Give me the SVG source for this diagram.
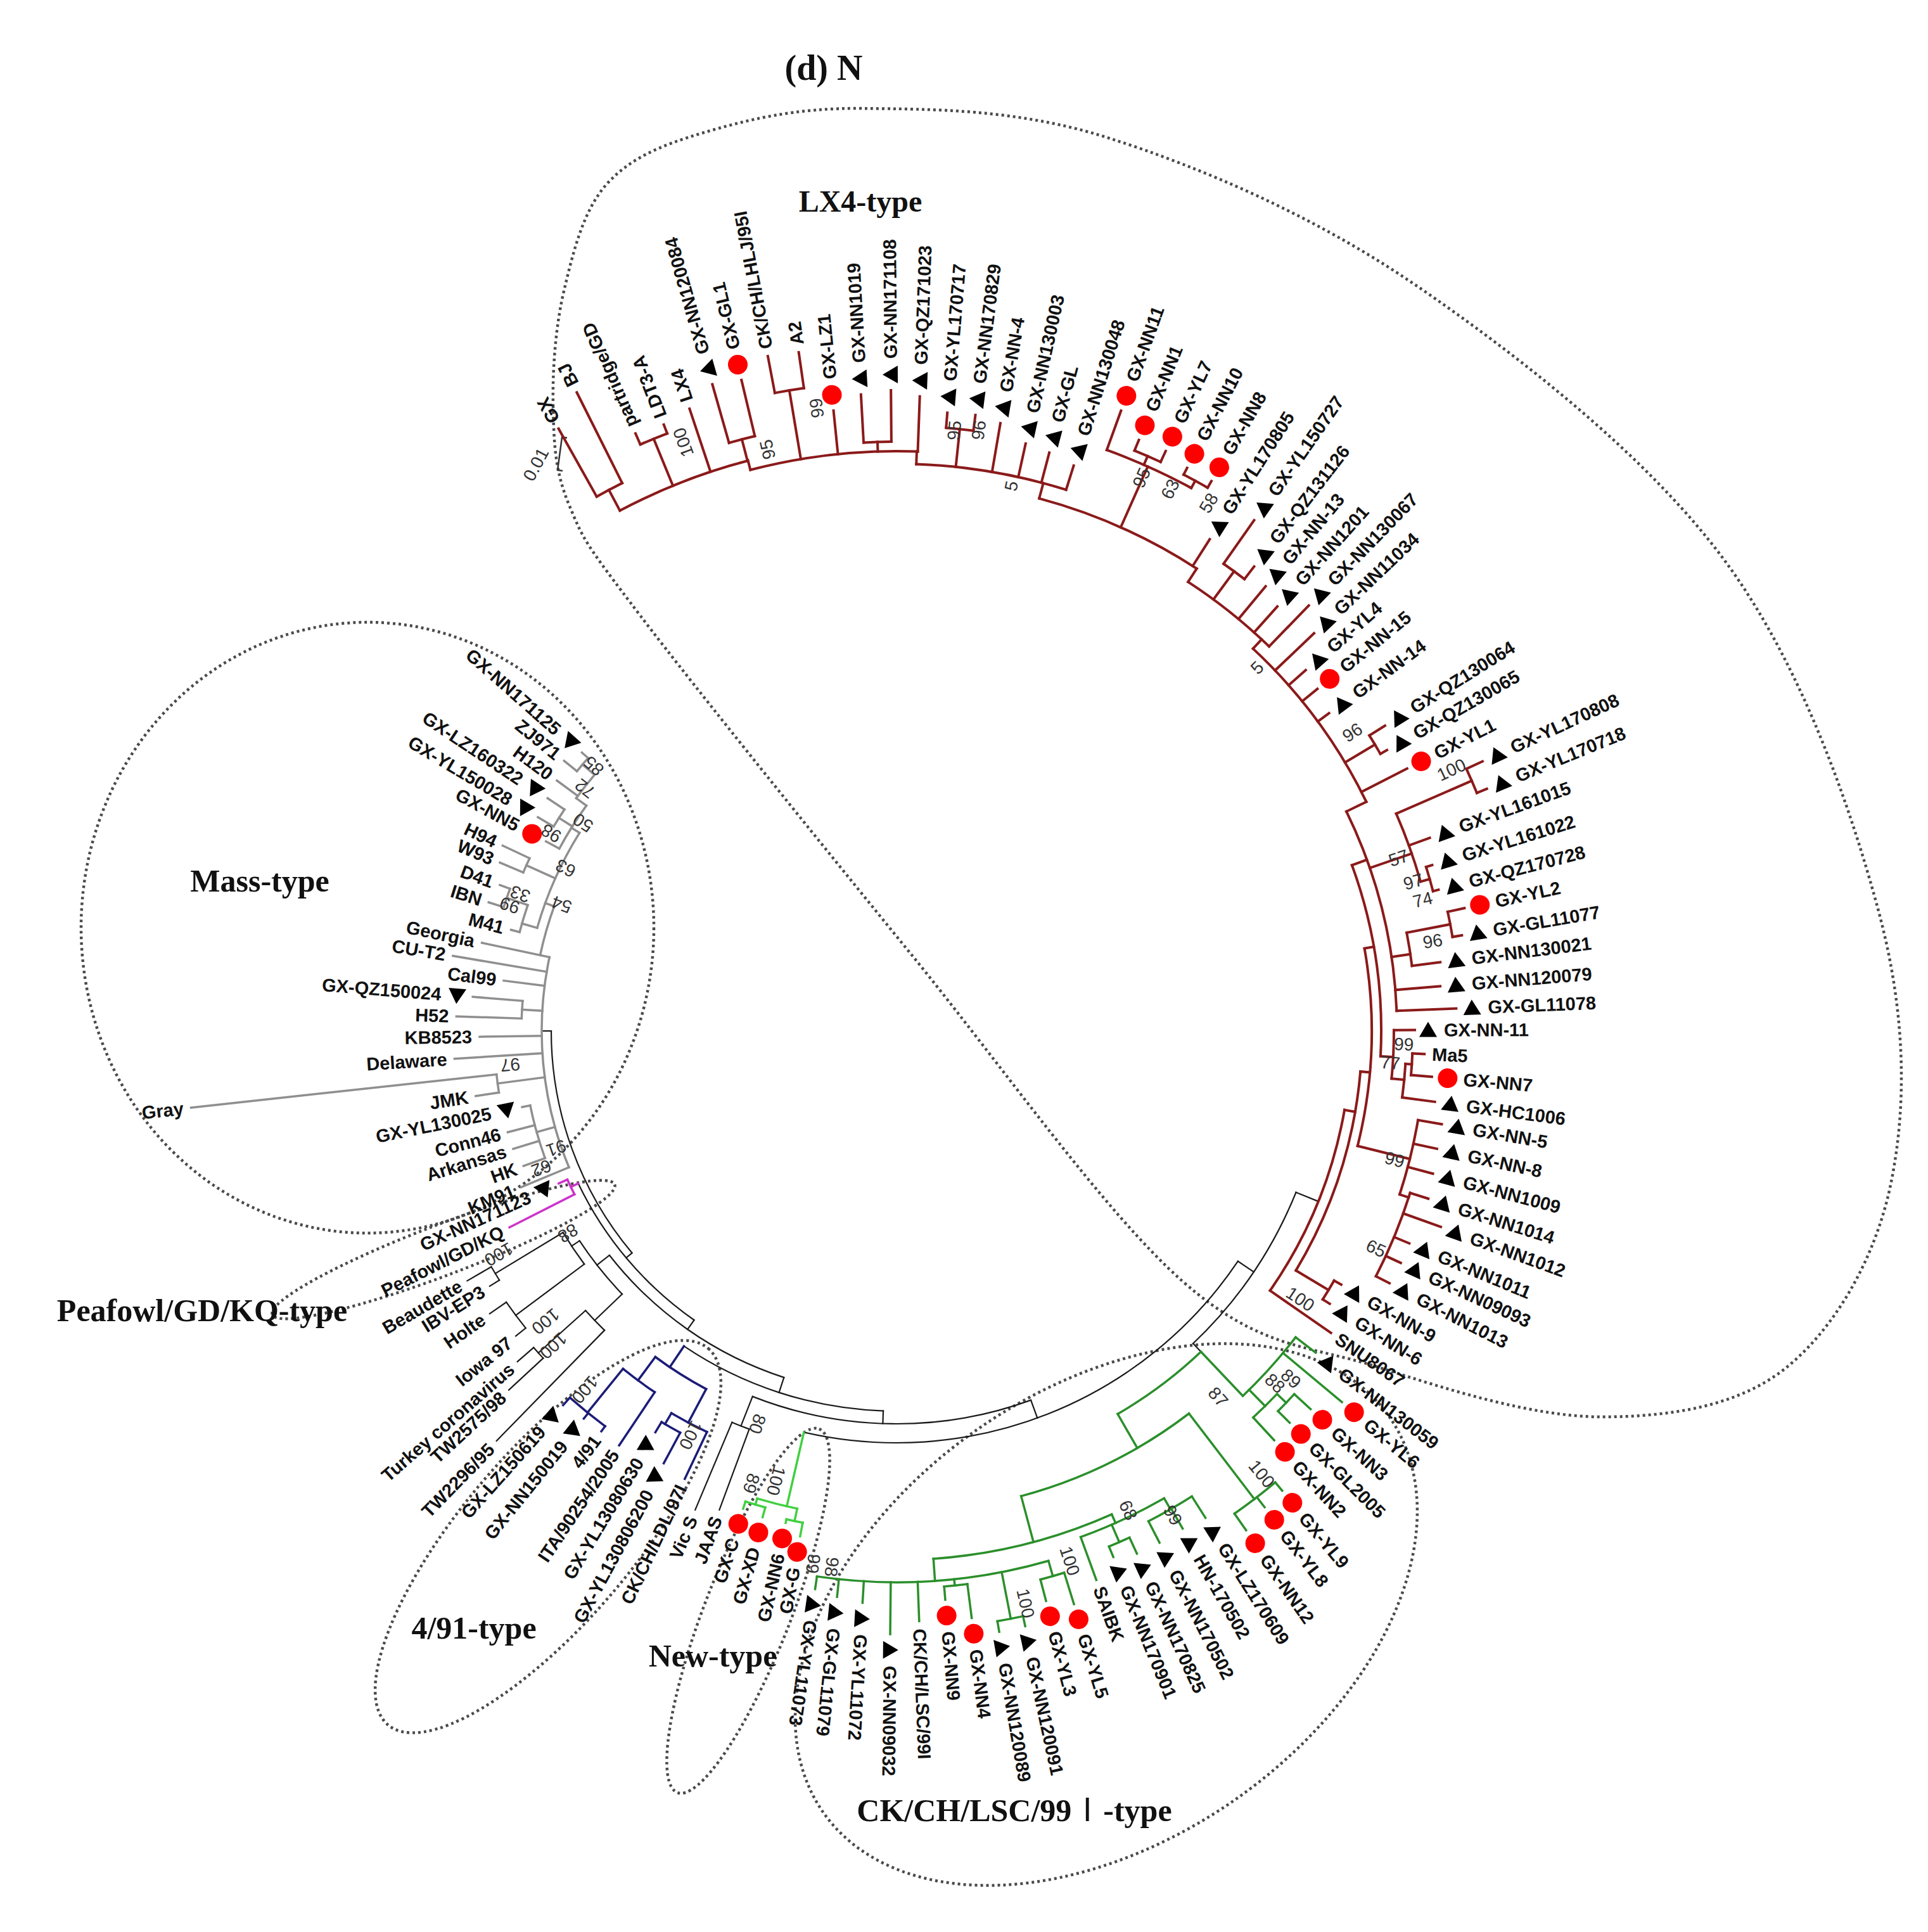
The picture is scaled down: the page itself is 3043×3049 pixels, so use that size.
<svg xmlns="http://www.w3.org/2000/svg" xmlns:xlink="http://www.w3.org/1999/xlink" width="3043" height="3049" viewBox="0 0 3043 3049">
<style>
.br line,.br circle{fill:none;stroke-linecap:square}
.k{stroke:#1a1a1a;stroke-width:2.2}
.r{stroke:#8b1a1a;stroke-width:4}
.g{stroke:#8f8f8f;stroke-width:3.5}
.m{stroke:#cc33cc;stroke-width:3.5}
.b{stroke:#1c1c78;stroke-width:3.5}
.n{stroke:#40d040;stroke-width:3.5}
.c{stroke:#2b8f2b;stroke-width:3.5}
.L{font-family:"Liberation Sans",Arial,sans-serif;font-weight:bold;font-size:29px;fill:#111;dominant-baseline:central}
.f{text-anchor:end}
.bs{font-family:"Liberation Sans",Arial,sans-serif;font-size:28px;fill:#333;text-anchor:middle;dominant-baseline:central}
.T{font-family:"Liberation Serif","Times New Roman",serif;font-weight:bold;fill:#111;text-anchor:middle}
.dot{fill:none;stroke:#4a4a4a;stroke-width:4.5;stroke-dasharray:4 5}
.dots{fill:none;stroke:#4a4a4a;stroke-width:2.31;stroke-dasharray:2.06 2.57}
</style>
<defs>
<path id="tri" d="M0,-13 L14,11 L-14,11Z" fill="#000"/>
<circle id="dt" r="15.5" fill="#f00"/>
</defs>
<rect width="3043" height="3049" fill="#fff"/>
<g id="clades">
<path class="dots" transform="scale(1.9444)" d="M449,330 C448.33,300.83 450.83,265 458,235 C465.17,205 473.33,171.17 492,150 C510.67,128.83 535.33,118.33 570,108 C604.67,97.67 645,87.33 700,88 C755,88.67 825,88 900,112 C975,136 1066.67,174.83 1150,232 C1233.33,289.17 1337.5,370.33 1400,455 C1462.5,539.67 1502.5,655.83 1525,740 C1547.5,824.17 1547.5,898.33 1535,960 C1522.5,1021.67 1489.17,1078.33 1450,1110 C1410.83,1141.67 1355,1150 1300,1150 C1245,1150 1176.67,1128.33 1120,1110 C1063.33,1091.67 1023.33,1095.83 960,1040 C896.67,984.17 813.33,865 740,775 C666.67,685 566.33,560.83 520,500 C473.67,439.17 473.83,438.33 462,410 C450.17,381.67 449.67,359.17 449,330Z"/>
<ellipse class="dot" cx="580" cy="1464" rx="452" ry="482"/>
<ellipse class="dot" rx="289" ry="40" transform="translate(700 1972) rotate(-20.8)"/>
<ellipse class="dot" rx="390" ry="135" transform="translate(865 2425) rotate(-49.6)"/>
<ellipse class="dot" rx="308" ry="68" transform="translate(1181 2542) rotate(-68.7)"/>
<ellipse class="dot" rx="545" ry="356" transform="translate(1746 2548) rotate(-35)"/>
</g>
<g id="titles">
<text class="T" x="1300" y="126" font-size="56">(d) N</text>
<text class="T" x="1358" y="334" font-size="48">LX4-type</text>
<text class="T" x="410" y="1407" font-size="50">Mass-type</text>
<text class="T" x="319" y="2085" font-size="50">Peafowl/GD/KQ-type</text>
<text class="T" x="748" y="2586" font-size="50">4/91-type</text>
<text class="T" x="1125" y="2630" font-size="50">New-type</text>
<text class="T" x="1601" y="2874" font-size="50">CK/CH/LSC/99<tspan font-family="'Noto Sans CJK SC',sans-serif" font-weight="normal">Ⅰ</tspan>-type</text>
</g>
<g id="scale">
<path d="M895 691 L887 690 L880 742 L888 743" fill="none" stroke="#333" stroke-width="2.5"/>
<text class="bs" font-size="27" transform="translate(846 733) rotate(-62)">0.01</text>
</g>
<g transform="translate(1415 1627)">
<g id="connectors" class="br">
<g class="k">
<circle r="545" pathLength="360" stroke-dasharray="40 999" transform="rotate(140)"/>
<circle r="557" pathLength="360" stroke-dasharray="29.4 999" transform="rotate(125)"/>
<circle r="575" pathLength="360" stroke-dasharray="34 999" transform="rotate(108)"/>
<circle r="600" pathLength="360" stroke-dasharray="32 999" transform="rotate(92)"/>
<circle r="620" pathLength="360" stroke-dasharray="41.5 999" transform="rotate(70)"/>
<circle r="650" pathLength="360" stroke-dasharray="69 999" transform="rotate(34)"/>
<circle r="680" pathLength="360" stroke-dasharray="24.5 999" transform="rotate(22)"/>
<circle r="600" pathLength="360" stroke-dasharray="10.3 999" transform="rotate(136.2)"/>
<circle r="615" pathLength="360" stroke-dasharray="5.6 999" transform="rotate(143.25)"/>
<circle r="740" pathLength="360" stroke-dasharray="1.9 999" transform="rotate(147.9)"/>
<circle r="750" pathLength="360" stroke-dasharray="3.9 999" transform="rotate(141.3)"/>
<circle r="660" pathLength="360" stroke-dasharray="3.75 999" transform="rotate(134.3)"/>
<circle r="760" pathLength="360" stroke-dasharray="1.7 999" transform="rotate(137.2)"/>
<circle r="670" pathLength="360" stroke-dasharray="2.5 999" transform="rotate(110.3)"/>
<line x1="545" x2="560" transform="rotate(180)"/>
<line x1="545" x2="557" transform="rotate(140)"/>
<line x1="557" x2="575" transform="rotate(125)"/>
<line x1="575" x2="600" transform="rotate(108)"/>
<line x1="600" x2="620" transform="rotate(92)"/>
<line x1="620" x2="650" transform="rotate(70)"/>
<line x1="650" x2="680" transform="rotate(34)"/>
<line x1="680" x2="718" transform="rotate(22)"/>
<line x1="680" x2="698" transform="rotate(46.5)"/>
<line x1="620" x2="670" transform="rotate(111.5)"/>
<line x1="575" x2="600" transform="rotate(142)"/>
<line x1="600" x2="615" transform="rotate(146.5)"/>
<line x1="615" x2="740" transform="rotate(148.85)"/>
<line x1="740" x2="784" transform="rotate(149.8)"/>
<line x1="740" x2="758" transform="rotate(147.9)"/>
<line x1="615" x2="750" transform="rotate(143.25)"/>
<line x1="750" x2="782" transform="rotate(145.2)"/>
<line x1="750" x2="770" transform="rotate(141.3)"/>
<line x1="600" x2="660" transform="rotate(136.2)"/>
<line x1="660" x2="904" transform="rotate(134.3)"/>
<line x1="660" x2="760" transform="rotate(138.05)"/>
<line x1="760" x2="794" transform="rotate(138.9)"/>
<line x1="760" x2="834" transform="rotate(137.2)"/>
<line x1="670" x2="806" transform="rotate(110.3)"/>
<line x1="670" x2="820" transform="rotate(112.8)"/>
</g>
<g class="m">
<circle r="570" pathLength="360" stroke-dasharray="2.6 999" transform="rotate(153.1)"/>
<line x1="557" x2="570" transform="rotate(154.4)"/>
<line x1="570" x2="585" transform="rotate(155.7)"/>
<line x1="570" x2="685" transform="rotate(153.1)"/>
</g>
<g class="g">
<circle r="560" pathLength="360" stroke-dasharray="34.6 999" transform="rotate(157.4)"/>
<circle r="590" pathLength="360" stroke-dasharray="8.4 999" transform="rotate(160.1)"/>
<circle r="635" pathLength="360" stroke-dasharray="2.6 999" transform="rotate(171.2)"/>
<circle r="592" pathLength="360" stroke-dasharray="2.7 999" transform="rotate(181.9)"/>
<circle r="575" pathLength="360" stroke-dasharray="8 999" transform="rotate(192)"/>
<circle r="590" pathLength="360" stroke-dasharray="16 999" transform="rotate(196)"/>
<circle r="615" pathLength="360" stroke-dasharray="4.15 999" transform="rotate(194.7)"/>
<circle r="650" pathLength="360" stroke-dasharray="2.7 999" transform="rotate(197.5)"/>
<circle r="640" pathLength="360" stroke-dasharray="2.2 999" transform="rotate(203)"/>
<circle r="605" pathLength="360" stroke-dasharray="7.6 999" transform="rotate(208.4)"/>
<circle r="630" pathLength="360" stroke-dasharray="2.9 999" transform="rotate(210.8)"/>
<circle r="625" pathLength="360" stroke-dasharray="4.3 999" transform="rotate(216)"/>
<circle r="650" pathLength="360" stroke-dasharray="2.4 999" transform="rotate(219.1)"/>
<line x1="560" x2="642" transform="rotate(157.4)"/>
<line x1="560" x2="590" transform="rotate(164.3)"/>
<line x1="590" x2="626" transform="rotate(160.1)"/>
<line x1="590" x2="633" transform="rotate(162.9)"/>
<line x1="590" x2="634" transform="rotate(165.4)"/>
<line x1="590" x2="603" transform="rotate(168.5)"/>
<line x1="560" x2="635" transform="rotate(172.5)"/>
<line x1="635" x2="672" transform="rotate(171.2)"/>
<line x1="635" x2="1120" transform="rotate(173.8)"/>
<line x1="560" x2="699" transform="rotate(176.4)"/>
<line x1="560" x2="658" transform="rotate(179.2)"/>
<line x1="560" x2="592" transform="rotate(183.25)"/>
<line x1="592" x2="695" transform="rotate(181.9)"/>
<line x1="592" x2="671" transform="rotate(184.6)"/>
<line x1="560" x2="625" transform="rotate(187.3)"/>
<line x1="560" x2="710" transform="rotate(189.6)"/>
<line x1="560" x2="669" transform="rotate(192)"/>
<line x1="575" x2="590" transform="rotate(200)"/>
<line x1="590" x2="615" transform="rotate(196)"/>
<line x1="615" x2="629" transform="rotate(194.7)"/>
<line x1="615" x2="650" transform="rotate(198.85)"/>
<line x1="650" x2="675" transform="rotate(197.5)"/>
<line x1="650" x2="667" transform="rotate(200.2)"/>
<line x1="590" x2="640" transform="rotate(204.1)"/>
<line x1="640" x2="680" transform="rotate(203)"/>
<line x1="640" x2="687" transform="rotate(205.2)"/>
<line x1="590" x2="605" transform="rotate(212)"/>
<line x1="605" x2="629" transform="rotate(208.4)"/>
<line x1="605" x2="630" transform="rotate(212.25)"/>
<line x1="630" x2="659" transform="rotate(210.8)"/>
<line x1="630" x2="662" transform="rotate(213.7)"/>
<line x1="605" x2="625" transform="rotate(216)"/>
<line x1="625" x2="666" transform="rotate(216.4)"/>
<line x1="625" x2="650" transform="rotate(220.3)"/>
<line x1="650" x2="676" transform="rotate(219.1)"/>
<line x1="650" x2="663" transform="rotate(221.5)"/>
</g>
<g class="b">
<circle r="640" pathLength="360" stroke-dasharray="8.5 999" transform="rotate(118)"/>
<circle r="686" pathLength="360" stroke-dasharray="5.2 999" transform="rotate(123.8)"/>
<circle r="775" pathLength="360" stroke-dasharray="5.3 999" transform="rotate(126.4)"/>
<circle r="700" pathLength="360" stroke-dasharray="5.2 999" transform="rotate(115.3)"/>
<circle r="720" pathLength="360" stroke-dasharray="2.7 999" transform="rotate(118.3)"/>
<line x1="600" x2="640" transform="rotate(124)"/>
<line x1="640" x2="686" transform="rotate(126.5)"/>
<line x1="686" x2="787" transform="rotate(123.8)"/>
<line x1="686" x2="775" transform="rotate(129)"/>
<line x1="775" x2="785" transform="rotate(126.4)"/>
<line x1="775" x2="786" transform="rotate(128.9)"/>
<line x1="775" x2="791" transform="rotate(131.7)"/>
<line x1="640" x2="700" transform="rotate(118)"/>
<line x1="700" x2="782" transform="rotate(115.3)"/>
<line x1="700" x2="720" transform="rotate(120.5)"/>
<line x1="720" x2="775" transform="rotate(118.3)"/>
<line x1="720" x2="739" transform="rotate(121)"/>
</g>
<g class="n">
<circle r="770" pathLength="360" stroke-dasharray="4.85 999" transform="rotate(101.75)"/>
<circle r="790" pathLength="360" stroke-dasharray="1.9 999" transform="rotate(100.8)"/>
<circle r="780" pathLength="360" stroke-dasharray="2.4 999" transform="rotate(105.4)"/>
<line x1="650" x2="770" transform="rotate(103)"/>
<line x1="770" x2="790" transform="rotate(101.75)"/>
<line x1="790" x2="812" transform="rotate(100.8)"/>
<line x1="790" x2="796" transform="rotate(102.7)"/>
<line x1="770" x2="780" transform="rotate(106.6)"/>
<line x1="780" x2="796" transform="rotate(105.4)"/>
<line x1="780" x2="792" transform="rotate(107.8)"/>
</g>
<g class="c">
<circle r="698" pathLength="360" stroke-dasharray="13.5 999" transform="rotate(46.5)"/>
<circle r="794" pathLength="360" stroke-dasharray="9 999" transform="rotate(37.5)"/>
<circle r="830" pathLength="360" stroke-dasharray="3.65 999" transform="rotate(43.65)"/>
<circle r="850" pathLength="360" stroke-dasharray="2.5 999" transform="rotate(42.4)"/>
<circle r="760" pathLength="360" stroke-dasharray="22.4 999" transform="rotate(52.6)"/>
<circle r="930" pathLength="360" stroke-dasharray="5 999" transform="rotate(50)"/>
<circle r="835" pathLength="360" stroke-dasharray="20 999" transform="rotate(66)"/>
<circle r="850" pathLength="360" stroke-dasharray="9.8 999" transform="rotate(60.2)"/>
<circle r="870" pathLength="360" stroke-dasharray="5.2 999" transform="rotate(57.6)"/>
<circle r="880" pathLength="360" stroke-dasharray="2.3 999" transform="rotate(65.3)"/>
<circle r="870" pathLength="360" stroke-dasharray="24.3 999" transform="rotate(74)"/>
<circle r="895" pathLength="360" stroke-dasharray="2.5 999" transform="rotate(72.8)"/>
<circle r="945" pathLength="360" stroke-dasharray="2.5 999" transform="rotate(77.8)"/>
<circle r="880" pathLength="360" stroke-dasharray="2.4 999" transform="rotate(82.7)"/>
<line x1="698" x2="794" transform="rotate(46.5)"/>
<line x1="794" x2="834" transform="rotate(37.5)"/>
<line x1="794" x2="915" transform="rotate(39.8)"/>
<line x1="794" x2="830" transform="rotate(45.5)"/>
<line x1="830" x2="850" transform="rotate(43.65)"/>
<line x1="850" x2="885" transform="rotate(42.4)"/>
<line x1="850" x2="876" transform="rotate(44.9)"/>
<line x1="830" x2="879" transform="rotate(47.3)"/>
<line x1="698" x2="760" transform="rotate(60)"/>
<line x1="760" x2="930" transform="rotate(52.6)"/>
<line x1="930" x2="947" transform="rotate(50)"/>
<line x1="930" x2="950" transform="rotate(52.3)"/>
<line x1="930" x2="962" transform="rotate(55)"/>
<line x1="760" x2="835" transform="rotate(75)"/>
<line x1="835" x2="850" transform="rotate(66)"/>
<line x1="850" x2="870" transform="rotate(60.2)"/>
<line x1="870" x2="910" transform="rotate(57.6)"/>
<line x1="870" x2="906" transform="rotate(60.1)"/>
<line x1="870" x2="908" transform="rotate(62.8)"/>
<line x1="850" x2="880" transform="rotate(66.45)"/>
<line x1="880" x2="908" transform="rotate(65.3)"/>
<line x1="880" x2="898" transform="rotate(67.6)"/>
<line x1="850" x2="922" transform="rotate(70)"/>
<line x1="835" x2="870" transform="rotate(86)"/>
<line x1="870" x2="895" transform="rotate(74)"/>
<line x1="895" x2="947" transform="rotate(72.8)"/>
<line x1="895" x2="930" transform="rotate(75.3)"/>
<line x1="870" x2="945" transform="rotate(79)"/>
<line x1="945" x2="961" transform="rotate(77.8)"/>
<line x1="945" x2="962" transform="rotate(80.3)"/>
<line x1="870" x2="880" transform="rotate(84)"/>
<line x1="880" x2="934" transform="rotate(82.7)"/>
<line x1="880" x2="901" transform="rotate(85.1)"/>
<line x1="870" x2="932" transform="rotate(87.8)"/>
<line x1="870" x2="952" transform="rotate(90.6)"/>
<line x1="870" x2="904" transform="rotate(93.4)"/>
<line x1="870" x2="898" transform="rotate(96)"/>
<line x1="870" x2="890" transform="rotate(98.3)"/>
</g>
<g class="r">
<circle r="718" pathLength="360" stroke-dasharray="24.8 999" transform="rotate(10)"/>
<circle r="735" pathLength="360" stroke-dasharray="25.95 999" transform="rotate(5)"/>
<circle r="795" pathLength="360" stroke-dasharray="2.5 999" transform="rotate(29.7)"/>
<circle r="750" pathLength="360" stroke-dasharray="24 999" transform="rotate(-10)"/>
<circle r="835" pathLength="360" stroke-dasharray="8.3 999" transform="rotate(9.7)"/>
<circle r="850" pathLength="360" stroke-dasharray="9.6 999" transform="rotate(17.5)"/>
<circle r="765" pathLength="360" stroke-dasharray="23 999" transform="rotate(-20)"/>
<circle r="785" pathLength="360" stroke-dasharray="5.6 999" transform="rotate(-0.1)"/>
<circle r="805" pathLength="360" stroke-dasharray="3.8 999" transform="rotate(3.7)"/>
<circle r="815" pathLength="360" stroke-dasharray="2.4 999" transform="rotate(2.5)"/>
<circle r="790" pathLength="360" stroke-dasharray="23.7 999" transform="rotate(-26)"/>
<circle r="820" pathLength="360" stroke-dasharray="3.7 999" transform="rotate(-10.9)"/>
<circle r="890" pathLength="360" stroke-dasharray="2.6 999" transform="rotate(-12.2)"/>
<circle r="860" pathLength="360" stroke-dasharray="7.6 999" transform="rotate(-23.5)"/>
<circle r="875" pathLength="360" stroke-dasharray="2.6 999" transform="rotate(-17.2)"/>
<circle r="990" pathLength="360" stroke-dasharray="2.4 999" transform="rotate(-24.7)"/>
<circle r="825" pathLength="360" stroke-dasharray="21 999" transform="rotate(-47)"/>
<circle r="880" pathLength="360" stroke-dasharray="2.2 999" transform="rotate(-32)"/>
<circle r="845" pathLength="360" stroke-dasharray="11.1 999" transform="rotate(-57)"/>
<circle r="900" pathLength="360" stroke-dasharray="2.6 999" transform="rotate(-55)"/>
<circle r="870" pathLength="360" stroke-dasharray="18 999" transform="rotate(-75)"/>
<circle r="975" pathLength="360" stroke-dasharray="8.6 999" transform="rotate(-70.1)"/>
<circle r="990" pathLength="360" stroke-dasharray="2.6 999" transform="rotate(-67.7)"/>
<circle r="988" pathLength="360" stroke-dasharray="2.5 999" transform="rotate(-62.7)"/>
<circle r="895" pathLength="360" stroke-dasharray="15.4 999" transform="rotate(-88)"/>
<circle r="955" pathLength="360" stroke-dasharray="2.6 999" transform="rotate(-85.3)"/>
<circle r="915" pathLength="360" stroke-dasharray="16.7 999" transform="rotate(-104.6)"/>
<circle r="930" pathLength="360" stroke-dasharray="2.7 999" transform="rotate(-93.2)"/>
<circle r="1025" pathLength="360" stroke-dasharray="2.6 999" transform="rotate(-100.8)"/>
<circle r="930" pathLength="360" stroke-dasharray="13.4 999" transform="rotate(-118)"/>
<circle r="965" pathLength="360" stroke-dasharray="2.5 999" transform="rotate(-105.9)"/>
<circle r="1010" pathLength="360" stroke-dasharray="2.6 999" transform="rotate(-113.6)"/>
<circle r="967" pathLength="360" stroke-dasharray="2.7 999" transform="rotate(-119.3)"/>
<line x1="718" x2="835" transform="rotate(34.8)"/>
<line x1="718" x2="735" transform="rotate(10)"/>
<line x1="735" x2="795" transform="rotate(30.95)"/>
<line x1="795" x2="808" transform="rotate(29.7)"/>
<line x1="795" x2="808" transform="rotate(32.2)"/>
<line x1="735" x2="750" transform="rotate(5)"/>
<line x1="750" x2="835" transform="rotate(14)"/>
<line x1="835" x2="873" transform="rotate(9.7)"/>
<line x1="835" x2="873" transform="rotate(12.3)"/>
<line x1="835" x2="876" transform="rotate(14.9)"/>
<line x1="835" x2="850" transform="rotate(18)"/>
<line x1="850" x2="880" transform="rotate(17.5)"/>
<line x1="850" x2="913" transform="rotate(19.8)"/>
<line x1="850" x2="876" transform="rotate(22.5)"/>
<line x1="850" x2="876" transform="rotate(24.7)"/>
<line x1="850" x2="874" transform="rotate(27.1)"/>
<line x1="750" x2="765" transform="rotate(-10)"/>
<line x1="765" x2="785" transform="rotate(3)"/>
<line x1="785" x2="818" transform="rotate(-0.1)"/>
<line x1="785" x2="805" transform="rotate(5.5)"/>
<line x1="805" x2="815" transform="rotate(3.7)"/>
<line x1="815" x2="834" transform="rotate(2.5)"/>
<line x1="815" x2="848" transform="rotate(4.9)"/>
<line x1="805" x2="857" transform="rotate(7.5)"/>
<line x1="765" x2="790" transform="rotate(-20)"/>
<line x1="790" x2="884" transform="rotate(-2.3)"/>
<line x1="790" x2="861" transform="rotate(-4.7)"/>
<line x1="790" x2="820" transform="rotate(-8.5)"/>
<line x1="820" x2="865" transform="rotate(-7.2)"/>
<line x1="820" x2="890" transform="rotate(-10.9)"/>
<line x1="890" x2="905" transform="rotate(-9.6)"/>
<line x1="890" x2="917" transform="rotate(-12.2)"/>
<line x1="790" x2="860" transform="rotate(-19)"/>
<line x1="860" x2="895" transform="rotate(-19.9)"/>
<line x1="860" x2="875" transform="rotate(-15.9)"/>
<line x1="875" x2="885" transform="rotate(-17.2)"/>
<line x1="875" x2="884" transform="rotate(-14.6)"/>
<line x1="860" x2="990" transform="rotate(-23.5)"/>
<line x1="990" x2="1018" transform="rotate(-24.7)"/>
<line x1="990" x2="1007" transform="rotate(-22.3)"/>
<line x1="790" x2="825" transform="rotate(-26)"/>
<line x1="825" x2="906" transform="rotate(-27.2)"/>
<line x1="825" x2="880" transform="rotate(-30.9)"/>
<line x1="880" x2="909" transform="rotate(-32)"/>
<line x1="880" x2="892" transform="rotate(-29.8)"/>
<line x1="825" x2="847" transform="rotate(-36.3)"/>
<line x1="825" x2="856" transform="rotate(-39.1)"/>
<line x1="825" x2="861" transform="rotate(-41.4)"/>
<line x1="825" x2="910" transform="rotate(-43.6)"/>
<line x1="825" x2="845" transform="rotate(-47)"/>
<line x1="845" x2="935" transform="rotate(-45.9)"/>
<line x1="845" x2="900" transform="rotate(-48.1)"/>
<line x1="845" x2="912" transform="rotate(-50.3)"/>
<line x1="845" x2="900" transform="rotate(-53.7)"/>
<line x1="900" x2="925" transform="rotate(-52.4)"/>
<line x1="900" x2="984" transform="rotate(-55)"/>
<line x1="845" x2="870" transform="rotate(-57)"/>
<line x1="870" x2="920" transform="rotate(-57.5)"/>
<line x1="870" x2="975" transform="rotate(-66)"/>
<line x1="975" x2="1041" transform="rotate(-70.1)"/>
<line x1="975" x2="990" transform="rotate(-66.4)"/>
<line x1="990" x2="1008" transform="rotate(-67.7)"/>
<line x1="990" x2="1009" transform="rotate(-65.1)"/>
<line x1="975" x2="988" transform="rotate(-61.5)"/>
<line x1="988" x2="1000" transform="rotate(-62.7)"/>
<line x1="988" x2="1000" transform="rotate(-60.2)"/>
<line x1="870" x2="895" transform="rotate(-75)"/>
<line x1="895" x2="935" transform="rotate(-72.6)"/>
<line x1="895" x2="944" transform="rotate(-75.2)"/>
<line x1="895" x2="949" transform="rotate(-77.6)"/>
<line x1="895" x2="973" transform="rotate(-80.3)"/>
<line x1="895" x2="955" transform="rotate(-84)"/>
<line x1="955" x2="979" transform="rotate(-85.3)"/>
<line x1="955" x2="980" transform="rotate(-82.7)"/>
<line x1="895" x2="915" transform="rotate(-88)"/>
<line x1="915" x2="1002" transform="rotate(-87.9)"/>
<line x1="915" x2="930" transform="rotate(-91.85)"/>
<line x1="930" x2="1006" transform="rotate(-93.2)"/>
<line x1="930" x2="1011" transform="rotate(-90.5)"/>
<line x1="915" x2="984" transform="rotate(-95.8)"/>
<line x1="915" x2="1025" transform="rotate(-99.5)"/>
<line x1="1025" x2="1082" transform="rotate(-98.2)"/>
<line x1="1025" x2="1084" transform="rotate(-100.8)"/>
<line x1="915" x2="930" transform="rotate(-104.6)"/>
<line x1="930" x2="965" transform="rotate(-104.65)"/>
<line x1="965" x2="1056" transform="rotate(-103.4)"/>
<line x1="965" x2="1061" transform="rotate(-105.9)"/>
<line x1="930" x2="1035" transform="rotate(-108.4)"/>
<line x1="930" x2="1010" transform="rotate(-112.3)"/>
<line x1="1010" x2="1029" transform="rotate(-113.6)"/>
<line x1="1010" x2="1025" transform="rotate(-111)"/>
<line x1="930" x2="967" transform="rotate(-118)"/>
<line x1="967" x2="1090" transform="rotate(-119.3)"/>
<line x1="967" x2="1127" transform="rotate(-116.6)"/>
</g>
</g>
<g id="bootstrap">
<text class="bs" transform="rotate(-109.9) translate(988)">100</text>
<text class="bs" transform="rotate(-97.3) translate(991)">99</text>
<text class="bs" transform="rotate(-102.5) translate(940)">95</text>
<text class="bs" transform="rotate(-84.5) translate(952)">95</text>
<text class="bs" transform="rotate(-82.2) translate(957)">96</text>
<text class="bs" transform="rotate(-78.1) translate(879)">5</text>
<text class="bs" transform="rotate(-66.1) translate(955)">95</text>
<text class="bs" transform="rotate(-63.2) translate(958)">63</text>
<text class="bs" transform="rotate(-59.4) translate(968)">58</text>
<text class="bs" transform="rotate(-45.2) translate(808)">5</text>
<text class="bs" transform="rotate(-33.2) translate(860)">96</text>
<text class="bs" transform="rotate(-25.2) translate(968)">100</text>
<text class="bs" transform="rotate(-19) translate(838)">57</text>
<text class="bs" transform="rotate(-16.1) translate(849)">97</text>
<text class="bs" transform="rotate(-14) translate(856)">74</text>
<text class="bs" transform="rotate(-9.5) translate(858)">96</text>
<text class="bs" transform="rotate(1.5) translate(801)">99</text>
<text class="bs" transform="rotate(3.7) translate(781)">77</text>
<text class="bs" transform="rotate(14.5) translate(812)">99</text>
<text class="bs" transform="rotate(24.4) translate(831)">65</text>
<text class="bs" transform="rotate(33.6) translate(765)">100</text>
<text class="bs" transform="rotate(48.7) translate(769)">87</text>
<text class="bs" transform="rotate(42.96) translate(816)">88</text>
<text class="bs" transform="rotate(41.4) translate(830)">89</text>
<text class="bs" transform="rotate(50.5) translate(906)">100</text>
<text class="bs" transform="rotate(64.2) translate(840)">68</text>
<text class="bs" transform="rotate(60.3) translate(880)">99</text>
<text class="bs" transform="rotate(71.9) translate(880)">100</text>
<text class="bs" transform="rotate(77.3) translate(926)">100</text>
<text class="bs" transform="rotate(98.9) translate(851)">99</text>
<text class="bs" transform="rotate(96.9) translate(852)">98</text>
<text class="bs" transform="rotate(105) translate(735)">100</text>
<text class="bs" transform="rotate(107.8) translate(750)">89</text>
<text class="bs" transform="rotate(109.5) translate(658)">80</text>
<text class="bs" transform="rotate(131) translate(750)">100</text>
<text class="bs" transform="rotate(117) translate(716)">100</text>
<text class="bs" transform="rotate(140.4) translate(719)">100</text>
<text class="bs" transform="rotate(137.5) translate(735)">100</text>
<text class="bs" transform="rotate(150.7) translate(720)">100</text>
<text class="bs" transform="rotate(148.4) translate(609)">88</text>
<text class="bs" transform="rotate(161) translate(568)">91</text>
<text class="bs" transform="rotate(158.9) translate(601)">62</text>
<text class="bs" transform="rotate(175) translate(612)">97</text>
<text class="bs" transform="rotate(221.2) translate(635)">85</text>
<text class="bs" transform="rotate(217.9) translate(623)">72</text>
<text class="bs" transform="rotate(213.6) translate(594)">50</text>
<text class="bs" transform="rotate(209.8) translate(628)">98</text>
<text class="bs" transform="rotate(206.2) translate(582)">63</text>
<text class="bs" transform="rotate(200.7) translate(565)">54</text>
<text class="bs" transform="rotate(200) translate(632)">33</text>
<text class="bs" transform="rotate(198) translate(642)">99</text>
</g>
<g id="leaves">
<g id="n1"><text class="L" transform="rotate(-119.3) translate(1102)">GX</text></g>
<g id="n2"><text class="L" transform="rotate(-116.6) translate(1139)">BJ</text></g>
<g id="n3"><text class="L" transform="rotate(-113.6) translate(1041)">partridge/GD</text></g>
<g id="n4"><text class="L" transform="rotate(-111) translate(1037)">LDT3-A</text></g>
<g id="n5"><text class="L" transform="rotate(-108.4) translate(1047)">LX4</text></g>
<g id="n6"><use href="#tri" transform="rotate(-105.9) translate(1086)"/><text class="L" transform="rotate(-105.9) translate(1111)">GX-NN120084</text></g>
<g id="n7"><use href="#dt" transform="rotate(-103.4) translate(1081)"/><text class="L" transform="rotate(-103.4) translate(1106)">GX-GL1</text></g>
<g id="n8"><text class="L" transform="rotate(-100.8) translate(1096)">CK/CH/LHLJ/95I</text></g>
<g id="n9"><text class="L" transform="rotate(-98.2) translate(1094)">A2</text></g>
<g id="n10"><use href="#dt" transform="rotate(-95.8) translate(1009)"/><text class="L" transform="rotate(-95.8) translate(1034)">GX-LZ1</text></g>
<g id="n11"><use href="#tri" transform="rotate(-93.2) translate(1031)"/><text class="L" transform="rotate(-93.2) translate(1056)">GX-NN1019</text></g>
<g id="n12"><use href="#tri" transform="rotate(-90.5) translate(1036)"/><text class="L" transform="rotate(-90.5) translate(1061)">GX-NN171108</text></g>
<g id="n13"><use href="#tri" transform="rotate(-87.9) translate(1027)"/><text class="L" transform="rotate(-87.9) translate(1052)">GX-QZ171023</text></g>
<g id="n14"><use href="#tri" transform="rotate(-85.3) translate(1004)"/><text class="L" transform="rotate(-85.3) translate(1029)">GX-YL170717</text></g>
<g id="n15"><use href="#tri" transform="rotate(-82.7) translate(1005)"/><text class="L" transform="rotate(-82.7) translate(1030)">GX-NN170829</text></g>
<g id="n16"><use href="#tri" transform="rotate(-80.3) translate(998)"/><text class="L" transform="rotate(-80.3) translate(1023)">GX-NN-4</text></g>
<g id="n17"><use href="#tri" transform="rotate(-77.6) translate(974)"/><text class="L" transform="rotate(-77.6) translate(999)">GX-NN130003</text></g>
<g id="n18"><use href="#tri" transform="rotate(-75.2) translate(969)"/><text class="L" transform="rotate(-75.2) translate(994)">GX-GL</text></g>
<g id="n19"><use href="#tri" transform="rotate(-72.6) translate(960)"/><text class="L" transform="rotate(-72.6) translate(985)">GX-NN130048</text></g>
<g id="n20"><use href="#dt" transform="rotate(-70.1) translate(1066)"/><text class="L" transform="rotate(-70.1) translate(1091)">GX-NN11</text></g>
<g id="n21"><use href="#dt" transform="rotate(-67.7) translate(1033)"/><text class="L" transform="rotate(-67.7) translate(1058)">GX-NN1</text></g>
<g id="n22"><use href="#dt" transform="rotate(-65.1) translate(1034)"/><text class="L" transform="rotate(-65.1) translate(1059)">GX-YL7</text></g>
<g id="n23"><use href="#dt" transform="rotate(-62.7) translate(1025)"/><text class="L" transform="rotate(-62.7) translate(1050)">GX-NN10</text></g>
<g id="n24"><use href="#dt" transform="rotate(-60.2) translate(1025)"/><text class="L" transform="rotate(-60.2) translate(1050)">GX-NN8</text></g>
<g id="n25"><use href="#tri" transform="rotate(-57.5) translate(945)"/><text class="L" transform="rotate(-57.5) translate(970)">GX-YL170805</text></g>
<g id="n26"><use href="#tri" transform="rotate(-55) translate(1009)"/><text class="L" transform="rotate(-55) translate(1034)">GX-YL150727</text></g>
<g id="n27"><use href="#tri" transform="rotate(-52.4) translate(950)"/><text class="L" transform="rotate(-52.4) translate(975)">GX-QZ131126</text></g>
<g id="n28"><use href="#tri" transform="rotate(-50.3) translate(937)"/><text class="L" transform="rotate(-50.3) translate(962)">GX-NN-13</text></g>
<g id="n29"><use href="#tri" transform="rotate(-48.1) translate(925)"/><text class="L" transform="rotate(-48.1) translate(950)">GX-NN1201</text></g>
<g id="n30"><use href="#tri" transform="rotate(-45.9) translate(960)"/><text class="L" transform="rotate(-45.9) translate(985)">GX-NN130067</text></g>
<g id="n31"><use href="#tri" transform="rotate(-43.6) translate(935)"/><text class="L" transform="rotate(-43.6) translate(960)">GX-NN11034</text></g>
<g id="n32"><use href="#tri" transform="rotate(-41.4) translate(886)"/><text class="L" transform="rotate(-41.4) translate(911)">GX-YL4</text></g>
<g id="n33"><use href="#dt" transform="rotate(-39.1) translate(881)"/><text class="L" transform="rotate(-39.1) translate(906)">GX-NN-15</text></g>
<g id="n34"><use href="#tri" transform="rotate(-36.3) translate(872)"/><text class="L" transform="rotate(-36.3) translate(897)">GX-NN-14</text></g>
<g id="n35"><use href="#tri" transform="rotate(-32) translate(934)"/><text class="L" transform="rotate(-32) translate(959)">GX-QZ130064</text></g>
<g id="n36"><use href="#tri" transform="rotate(-29.8) translate(917)"/><text class="L" transform="rotate(-29.8) translate(942)">GX-QZ130065</text></g>
<g id="n37"><use href="#dt" transform="rotate(-27.2) translate(931)"/><text class="L" transform="rotate(-27.2) translate(956)">GX-YL1</text></g>
<g id="n38"><use href="#tri" transform="rotate(-24.7) translate(1043)"/><text class="L" transform="rotate(-24.7) translate(1068)">GX-YL170808</text></g>
<g id="n39"><use href="#tri" transform="rotate(-22.3) translate(1032)"/><text class="L" transform="rotate(-22.3) translate(1057)">GX-YL170718</text></g>
<g id="n40"><use href="#tri" transform="rotate(-19.9) translate(920)"/><text class="L" transform="rotate(-19.9) translate(945)">GX-YL161015</text></g>
<g id="n41"><use href="#tri" transform="rotate(-17.2) translate(910)"/><text class="L" transform="rotate(-17.2) translate(935)">GX-YL161022</text></g>
<g id="n42"><use href="#tri" transform="rotate(-14.6) translate(909)"/><text class="L" transform="rotate(-14.6) translate(934)">GX-QZ170728</text></g>
<g id="n43"><use href="#dt" transform="rotate(-12.2) translate(942)"/><text class="L" transform="rotate(-12.2) translate(967)">GX-YL2</text></g>
<g id="n44"><use href="#tri" transform="rotate(-9.6) translate(930)"/><text class="L" transform="rotate(-9.6) translate(955)">GX-GL11077</text></g>
<g id="n45"><use href="#tri" transform="rotate(-7.2) translate(890)"/><text class="L" transform="rotate(-7.2) translate(915)">GX-NN130021</text></g>
<g id="n46"><use href="#tri" transform="rotate(-4.7) translate(886)"/><text class="L" transform="rotate(-4.7) translate(911)">GX-NN120079</text></g>
<g id="n47"><use href="#tri" transform="rotate(-2.3) translate(909)"/><text class="L" transform="rotate(-2.3) translate(934)">GX-GL11078</text></g>
<g id="n48"><use href="#tri" transform="rotate(-0.1) translate(839)"/><text class="L" transform="rotate(-0.1) translate(864)">GX-NN-11</text></g>
<g id="n49"><text class="L" transform="rotate(2.5) translate(846)">Ma5</text></g>
<g id="n50"><use href="#dt" transform="rotate(4.9) translate(873)"/><text class="L" transform="rotate(4.9) translate(898)">GX-NN7</text></g>
<g id="n51"><use href="#tri" transform="rotate(7.5) translate(882)"/><text class="L" transform="rotate(7.5) translate(907)">GX-HC1006</text></g>
<g id="n52"><use href="#tri" transform="rotate(9.7) translate(898)"/><text class="L" transform="rotate(9.7) translate(923)">GX-NN-5</text></g>
<g id="n53"><use href="#tri" transform="rotate(12.3) translate(898)"/><text class="L" transform="rotate(12.3) translate(923)">GX-NN-8</text></g>
<g id="n54"><use href="#tri" transform="rotate(14.9) translate(901)"/><text class="L" transform="rotate(14.9) translate(926)">GX-NN1009</text></g>
<g id="n55"><use href="#tri" transform="rotate(17.5) translate(905)"/><text class="L" transform="rotate(17.5) translate(930)">GX-NN1014</text></g>
<g id="n56"><use href="#tri" transform="rotate(19.8) translate(938)"/><text class="L" transform="rotate(19.8) translate(963)">GX-NN1012</text></g>
<g id="n57"><use href="#tri" transform="rotate(22.5) translate(901)"/><text class="L" transform="rotate(22.5) translate(926)">GX-NN1011</text></g>
<g id="n58"><use href="#tri" transform="rotate(24.7) translate(901)"/><text class="L" transform="rotate(24.7) translate(926)">GX-NN09093</text></g>
<g id="n59"><use href="#tri" transform="rotate(27.1) translate(899)"/><text class="L" transform="rotate(27.1) translate(924)">GX-NN1013</text></g>
<g id="n60"><use href="#tri" transform="rotate(29.7) translate(833)"/><text class="L" transform="rotate(29.7) translate(858)">GX-NN-9</text></g>
<g id="n61"><use href="#tri" transform="rotate(32.2) translate(833)"/><text class="L" transform="rotate(32.2) translate(858)">GX-NN-6</text></g>
<g id="n62"><text class="L" transform="rotate(34.8) translate(847)">SNU8067</text></g>
<g id="n63"><use href="#tri" transform="rotate(37.5) translate(859)"/><text class="L" transform="rotate(37.5) translate(884)">GX-NN130059</text></g>
<g id="n64"><use href="#dt" transform="rotate(39.8) translate(940)"/><text class="L" transform="rotate(39.8) translate(965)">GX-YL6</text></g>
<g id="n65"><use href="#dt" transform="rotate(42.4) translate(910)"/><text class="L" transform="rotate(42.4) translate(935)">GX-NN3</text></g>
<g id="n66"><use href="#dt" transform="rotate(44.9) translate(901)"/><text class="L" transform="rotate(44.9) translate(926)">GX-GL2005</text></g>
<g id="n67"><use href="#dt" transform="rotate(47.3) translate(904)"/><text class="L" transform="rotate(47.3) translate(929)">GX-NN2</text></g>
<g id="n68"><use href="#dt" transform="rotate(50) translate(972)"/><text class="L" transform="rotate(50) translate(997)">GX-YL9</text></g>
<g id="n69"><use href="#dt" transform="rotate(52.3) translate(975)"/><text class="L" transform="rotate(52.3) translate(1000)">GX-YL8</text></g>
<g id="n70"><use href="#dt" transform="rotate(55) translate(987)"/><text class="L" transform="rotate(55) translate(1012)">GX-NN12</text></g>
<g id="n71"><use href="#tri" transform="rotate(57.6) translate(935)"/><text class="L" transform="rotate(57.6) translate(960)">GX-LZ170609</text></g>
<g id="n72"><use href="#tri" transform="rotate(60.1) translate(931)"/><text class="L" transform="rotate(60.1) translate(956)">HN-170502</text></g>
<g id="n73"><use href="#tri" transform="rotate(62.8) translate(933)"/><text class="L" transform="rotate(62.8) translate(958)">GX-NN170502</text></g>
<g id="n74"><use href="#tri" transform="rotate(65.3) translate(933)"/><text class="L" transform="rotate(65.3) translate(958)">GX-NN170825</text></g>
<g id="n75"><use href="#tri" transform="rotate(67.6) translate(923)"/><text class="L" transform="rotate(67.6) translate(948)">GX-NN170901</text></g>
<g id="n76"><text class="L" transform="rotate(70) translate(934)">SAIBK</text></g>
<g id="n77"><use href="#dt" transform="rotate(72.8) translate(972)"/><text class="L" transform="rotate(72.8) translate(997)">GX-YL5</text></g>
<g id="n78"><use href="#dt" transform="rotate(75.3) translate(955)"/><text class="L" transform="rotate(75.3) translate(980)">GX-YL3</text></g>
<g id="n79"><use href="#tri" transform="rotate(77.8) translate(986)"/><text class="L" transform="rotate(77.8) translate(1011)">GX-NN120091</text></g>
<g id="n80"><use href="#tri" transform="rotate(80.3) translate(987)"/><text class="L" transform="rotate(80.3) translate(1012)">GX-NN120089</text></g>
<g id="n81"><use href="#dt" transform="rotate(82.7) translate(959)"/><text class="L" transform="rotate(82.7) translate(984)">GX-NN4</text></g>
<g id="n82"><use href="#dt" transform="rotate(85.1) translate(926)"/><text class="L" transform="rotate(85.1) translate(951)">GX-NN9</text></g>
<g id="n83"><text class="L" transform="rotate(87.8) translate(944)">CK/CH/LSC/99I</text></g>
<g id="n84"><use href="#tri" transform="rotate(90.6) translate(977)"/><text class="L" transform="rotate(90.6) translate(1002)">GX-NN09032</text></g>
<g id="n85"><use href="#tri" transform="rotate(93.4) translate(929)"/><text class="L" transform="rotate(93.4) translate(954)">GX-YL11072</text></g>
<g id="n86"><use href="#tri" transform="rotate(96) translate(923)"/><text class="L" transform="rotate(96) translate(948)">GX-GL11079</text></g>
<g id="n87"><use href="#tri" transform="rotate(98.3) translate(915)"/><text class="L" transform="rotate(98.3) translate(940)">GX-YL11073</text></g>
<g id="n88"><use href="#dt" transform="rotate(100.8) translate(837)"/><text class="L f" transform="rotate(100.8) translate(862) rotate(180)">GX-G</text></g>
<g id="n89"><use href="#dt" transform="rotate(102.7) translate(821)"/><text class="L f" transform="rotate(102.7) translate(846) rotate(180)">GX-NN6</text></g>
<g id="n90"><use href="#dt" transform="rotate(105.4) translate(821)"/><text class="L f" transform="rotate(105.4) translate(846) rotate(180)">GX-XD</text></g>
<g id="n91"><use href="#dt" transform="rotate(107.8) translate(817)"/><text class="L f" transform="rotate(107.8) translate(842) rotate(180)">GX-C</text></g>
<g id="n92"><text class="L f" transform="rotate(110.3) translate(818) rotate(180)">JAAS</text></g>
<g id="n93"><text class="L f" transform="rotate(112.8) translate(832) rotate(180)">Vic S</text></g>
<g id="n94"><text class="L f" transform="rotate(115.3) translate(794) rotate(180)">CK/CH/LDL/97I</text></g>
<g id="n95"><use href="#tri" transform="rotate(118.3) translate(800)"/><text class="L f" transform="rotate(118.3) translate(825) rotate(180)">GX-YL130806200</text></g>
<g id="n96"><use href="#tri" transform="rotate(121) translate(764)"/><text class="L f" transform="rotate(121) translate(789) rotate(180)">GX-YL13080630</text></g>
<g id="n97"><text class="L f" transform="rotate(123.8) translate(799) rotate(180)">ITA/90254/2005</text></g>
<g id="n98"><text class="L f" transform="rotate(126.4) translate(797) rotate(180)">4/91</text></g>
<g id="n99"><use href="#tri" transform="rotate(128.9) translate(811)"/><text class="L f" transform="rotate(128.9) translate(836) rotate(180)">GX-NN150019</text></g>
<g id="n100"><use href="#tri" transform="rotate(131.7) translate(816)"/><text class="L f" transform="rotate(131.7) translate(841) rotate(180)">GX-LZ150619</text></g>
<g id="n101"><text class="L f" transform="rotate(134.3) translate(916) rotate(180)">TW2296/95</text></g>
<g id="n102"><text class="L f" transform="rotate(137.2) translate(846) rotate(180)">TW2575/98</text></g>
<g id="n103"><text class="L f" transform="rotate(138.9) translate(806) rotate(180)">Turkey coronavirus</text></g>
<g id="n104"><text class="L f" transform="rotate(141.3) translate(782) rotate(180)">Iowa 97</text></g>
<g id="n105"><text class="L f" transform="rotate(145.2) translate(794) rotate(180)">Holte</text></g>
<g id="n106"><text class="L f" transform="rotate(147.9) translate(770) rotate(180)">IBV-EP3</text></g>
<g id="n107"><text class="L f" transform="rotate(149.8) translate(796) rotate(180)">Beaudette</text></g>
<g id="n108"><text class="L f" transform="rotate(153.1) translate(697) rotate(180)">Peafowl/GD/KQ</text></g>
<g id="n109"><use href="#tri" transform="rotate(155.7) translate(610)"/><text class="L f" transform="rotate(155.7) translate(635) rotate(180)">GX-NN171123</text></g>
<g id="n110"><text class="L f" transform="rotate(157.4) translate(654) rotate(180)">KM91</text></g>
<g id="n111"><text class="L f" transform="rotate(160.1) translate(638) rotate(180)">HK</text></g>
<g id="n112"><text class="L f" transform="rotate(162.9) translate(645) rotate(180)">Arkansas</text></g>
<g id="n113"><text class="L f" transform="rotate(165.4) translate(646) rotate(180)">Conn46</text></g>
<g id="n114"><use href="#tri" transform="rotate(168.5) translate(628)"/><text class="L f" transform="rotate(168.5) translate(653) rotate(180)">GX-YL130025</text></g>
<g id="n115"><text class="L f" transform="rotate(171.2) translate(684) rotate(180)">JMK</text></g>
<g id="n116"><text class="L f" transform="rotate(173.8) translate(1132) rotate(180)">Gray</text></g>
<g id="n117"><text class="L f" transform="rotate(176.4) translate(711) rotate(180)">Delaware</text></g>
<g id="n118"><text class="L f" transform="rotate(179.2) translate(670) rotate(180)">KB8523</text></g>
<g id="n119"><text class="L f" transform="rotate(181.9) translate(707) rotate(180)">H52</text></g>
<g id="n120"><use href="#tri" transform="rotate(184.6) translate(696)"/><text class="L f" transform="rotate(184.6) translate(721) rotate(180)">GX-QZ150024</text></g>
<g id="n121"><text class="L f" transform="rotate(187.3) translate(637) rotate(180)">Cal99</text></g>
<g id="n122"><text class="L f" transform="rotate(189.6) translate(722) rotate(180)">CU-T2</text></g>
<g id="n123"><text class="L f" transform="rotate(192) translate(681) rotate(180)">Georgia</text></g>
<g id="n124"><text class="L f" transform="rotate(194.7) translate(641) rotate(180)">M41</text></g>
<g id="n125"><text class="L f" transform="rotate(197.5) translate(687) rotate(180)">IBN</text></g>
<g id="n126"><text class="L f" transform="rotate(200.2) translate(679) rotate(180)">D41</text></g>
<g id="n127"><text class="L f" transform="rotate(203) translate(692) rotate(180)">W93</text></g>
<g id="n128"><text class="L f" transform="rotate(205.2) translate(699) rotate(180)">H94</text></g>
<g id="n129"><use href="#dt" transform="rotate(208.4) translate(654)"/><text class="L f" transform="rotate(208.4) translate(679) rotate(180)">GX-NN5</text></g>
<g id="n130"><use href="#tri" transform="rotate(210.8) translate(684)"/><text class="L f" transform="rotate(210.8) translate(709) rotate(180)">GX-YL150028</text></g>
<g id="n131"><use href="#tri" transform="rotate(213.7) translate(687)"/><text class="L f" transform="rotate(213.7) translate(712) rotate(180)">GX-LZ160322</text></g>
<g id="n132"><text class="L f" transform="rotate(216.4) translate(678) rotate(180)">H120</text></g>
<g id="n133"><text class="L f" transform="rotate(219.1) translate(688) rotate(180)">ZJ971</text></g>
<g id="n134"><use href="#tri" transform="rotate(221.5) translate(688)"/><text class="L f" transform="rotate(221.5) translate(713) rotate(180)">GX-NN171125</text></g>
</g>
</g>
</svg>
